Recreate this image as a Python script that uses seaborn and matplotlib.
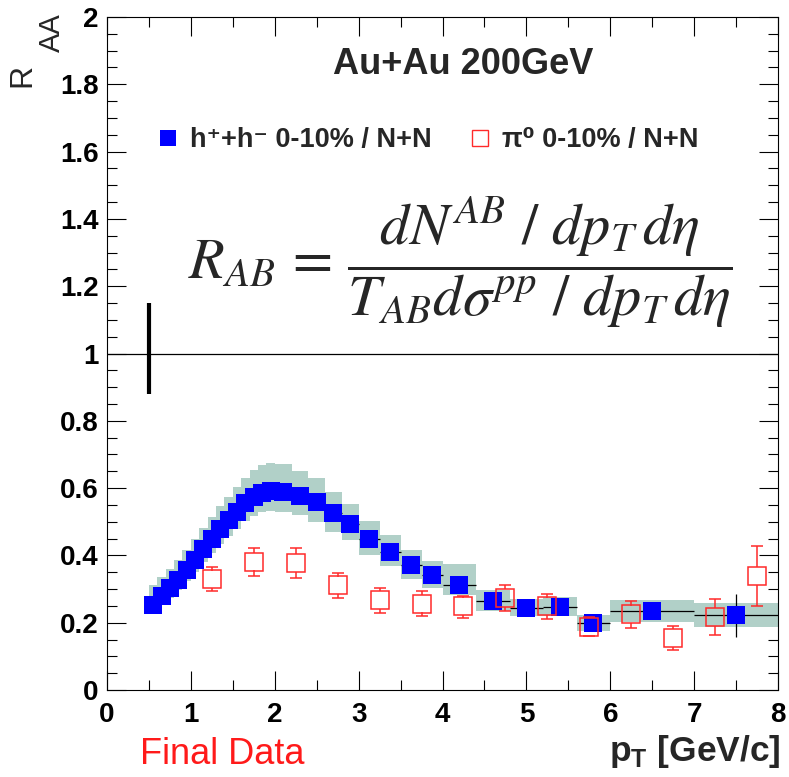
import matplotlib
matplotlib.use("Agg")
import numpy as np
import pandas as pd
import seaborn as sns
import matplotlib.pyplot as plt
from matplotlib.lines import Line2D
from matplotlib.ticker import MultipleLocator, FuncFormatter

# ---------------- data ----------------
h_pt = [0.55, 0.65, 0.75, 0.85, 0.95, 1.05, 1.15, 1.25, 1.35, 1.45, 1.55, 1.65, 1.75, 1.85, 1.95,
        2.1, 2.3, 2.5, 2.7, 2.9, 3.125, 3.375, 3.625, 3.875, 4.2, 4.6, 5.0, 5.4, 5.8, 6.5, 7.5]
h_raa = [0.254, 0.279, 0.303, 0.328, 0.356, 0.386, 0.418, 0.449, 0.478, 0.505, 0.530, 0.555, 0.573,
         0.586, 0.590, 0.588, 0.578, 0.558, 0.525, 0.493, 0.449, 0.411, 0.371, 0.341, 0.313, 0.264,
         0.244, 0.247, 0.198, 0.234, 0.222]
h_bin_lo = [0.5, 0.6, 0.7, 0.8, 0.9, 1.0, 1.1, 1.2, 1.3, 1.4, 1.5, 1.6, 1.7, 1.8, 1.9,
            2.0, 2.2, 2.4, 2.6, 2.8, 3.0, 3.25, 3.5, 3.75, 4.0, 4.4, 4.8, 5.2, 5.6, 6.0, 7.0]
h_bin_hi = [0.6, 0.7, 0.8, 0.9, 1.0, 1.1, 1.2, 1.3, 1.4, 1.5, 1.6, 1.7, 1.8, 1.9, 2.0,
            2.2, 2.4, 2.6, 2.8, 3.0, 3.25, 3.5, 3.75, 4.0, 4.4, 4.8, 5.2, 5.6, 6.0, 7.0, 8.0]
h_sys_up = [0.057, 0.057, 0.058, 0.059, 0.060, 0.062, 0.064, 0.066, 0.068, 0.070, 0.073, 0.076, 0.080,
            0.083, 0.084, 0.084, 0.074, 0.071, 0.064, 0.059, 0.053, 0.050, 0.046, 0.043, 0.060, 0.032,
            0.026, 0.028, 0.025, 0.033, 0.036]
h_sys_dn = [0.025, 0.027, 0.029, 0.031, 0.033, 0.036, 0.039, 0.042, 0.045, 0.048, 0.051, 0.054, 0.056,
            0.058, 0.058, 0.058, 0.058, 0.058, 0.055, 0.048, 0.047, 0.043, 0.040, 0.037, 0.032, 0.030,
            0.024, 0.028, 0.022, 0.033, 0.034]
h_stat = [0.003] * 28 + [0.010, 0.015, 0.064]

pi0_pt = [1.25, 1.75, 2.25, 2.75, 3.25, 3.75, 4.25, 4.75, 5.25, 5.75, 6.25, 6.75, 7.25, 7.75]
pi0_raa = [0.329, 0.381, 0.377, 0.311, 0.267, 0.257, 0.249, 0.273, 0.249, 0.187, 0.225, 0.155, 0.217, 0.339]
pi0_err_hi = [0.366, 0.423, 0.422, 0.349, 0.303, 0.293, 0.279, 0.311, 0.284, 0.216, 0.265, 0.189, 0.270, 0.429]
pi0_err_lo = [0.293, 0.338, 0.334, 0.273, 0.229, 0.219, 0.214, 0.235, 0.210, 0.160, 0.185, 0.120, 0.162, 0.249]

norm_x = 0.5
norm_lo, norm_hi = 0.88, 1.15

x_ticks = [0, 1, 2, 3, 4, 5, 6, 7, 8]
y_ticks = [0, 0.2, 0.4, 0.6, 0.8, 1.0, 1.2, 1.4, 1.6, 1.8, 2.0]

h_label = "h\u207a+h\u207b 0-10% / N+N"
pi0_label = "\u03c0\u2070 0-10% / N+N"
title_text = "Au+Au 200GeV"

# ---------------- style ----------------
BLUE = "#0000ff"
RED = "#ff2a2a"
BAND = "#b1d0c8"

sns.set_theme(style="ticks")
plt.rcParams["font.family"] = ["Liberation Sans", "DejaVu Sans"]
plt.rcParams.update({
    "mathtext.fontset": "custom",
    "mathtext.bf": "Liberation Sans:bold",
    "mathtext.rm": "Liberation Sans",
    "axes.linewidth": 0.8,
    "axes.edgecolor": "black",
    "xtick.direction": "in", "ytick.direction": "in",
    "xtick.top": True, "ytick.right": True,
    "xtick.major.size": 14, "ytick.major.size": 14,
    "xtick.minor.size": 7, "ytick.minor.size": 7,
    "xtick.major.width": 0.8, "ytick.major.width": 0.8,
    "xtick.minor.width": 0.8, "ytick.minor.width": 0.8,
    "xtick.color": "black", "ytick.color": "black",
})

df_h = pd.DataFrame({"pt": h_pt, "raa": h_raa, "lo": h_bin_lo, "hi": h_bin_hi,
                     "sup": h_sys_up, "sdn": h_sys_dn, "stat": h_stat})
df_h["width"] = df_h["hi"] - df_h["lo"]
df_h["center"] = (df_h["hi"] + df_h["lo"]) / 2
df_h["xerr"] = df_h["width"] / 2

df_p = pd.DataFrame({"pt": pi0_pt, "raa": pi0_raa, "hi": pi0_err_hi, "lo": pi0_err_lo})

fig = plt.figure(figsize=(7.89, 7.77), dpi=100)
ax = fig.add_axes([107 / 789, 1 - 690 / 777, 671 / 789, 673 / 777])
ax.set_xlim(0, 8)
ax.set_ylim(0, 2)

# systematic band
ax.bar(df_h["center"], df_h["sup"] + df_h["sdn"], bottom=df_h["raa"] - df_h["sdn"],
       width=df_h["width"], color=BAND, linewidth=0, zorder=1)

# reference line and normalisation bar
ax.axhline(1.0, color="black", lw=0.9, zorder=2)
ax.vlines(norm_x, norm_lo, norm_hi, color="black", lw=3.0, zorder=2)

# blue error bars (bin widths / stat)
ax.errorbar(df_h["pt"], df_h["raa"], xerr=df_h["xerr"], yerr=df_h["stat"], fmt="none",
            ecolor="black", elinewidth=0.9, zorder=3)
# blue points
sns.scatterplot(data=df_h, x="pt", y="raa", marker="s", s=168, color=BLUE,
                linewidth=0, ax=ax, zorder=4, legend=False)

# red points with error bars outside the marker
ms_red = 12.5
fig.canvas.draw()
px_per_unit = ax.transData.transform((0, 1))[1] - ax.transData.transform((0, 0))[1]
gap = (ms_red / 2) * fig.dpi / 72 / px_per_unit
ax.vlines(df_p["pt"], df_p["raa"] + gap, df_p["hi"], color=RED, lw=1.1, zorder=5)
ax.vlines(df_p["pt"], df_p["lo"], df_p["raa"] - gap, color=RED, lw=1.1, zorder=5)
ax.plot(df_p["pt"], df_p["hi"], ls="none", marker="_", ms=9, mew=1.1, color=RED, zorder=5)
ax.plot(df_p["pt"], df_p["lo"], ls="none", marker="_", ms=9, mew=1.1, color=RED, zorder=5)
ax.plot(df_p["pt"], df_p["raa"], ls="none", marker="s", ms=ms_red, mfc="none", mec=RED,
        mew=1.1, zorder=6)

# ticks
ax.set_xticks(x_ticks)
ax.set_yticks(y_ticks)
ax.xaxis.set_minor_locator(MultipleLocator(0.5))
ax.yaxis.set_minor_locator(MultipleLocator(0.05))
ax.yaxis.set_major_formatter(FuncFormatter(lambda v, p: f"{v:g}"))
ax.xaxis.set_major_formatter(FuncFormatter(lambda v, p: f"{v:g}"))
ax.tick_params(axis="both", which="major", labelsize=20, pad=9)
ax.tick_params(axis="y", which="major", pad=6)
for lab in ax.get_xticklabels() + ax.get_yticklabels():
    lab.set_fontweight("bold")
ax.set_xlabel("")
ax.set_ylabel("")

# texts
ax.text(0.531, 0.929, title_text, transform=ax.transAxes, ha="center", va="center",
        fontsize=26, fontweight="bold")

formula = (r"$R_{AB}\,=\,\dfrac{dN^{AB}\ /\ dp_{T}\,d\eta}"
           r"{T_{AB}d\sigma^{pp}\ /\ dp_{T}\,d\eta}$")
ax.text(0.527, 0.636, formula, transform=ax.transAxes, ha="center", va="center",
        fontsize=42, math_fontfamily="stix")

handles = [Line2D([], [], ls="none", marker="s", ms=11, mfc=BLUE, mec=BLUE, mew=0),
           Line2D([], [], ls="none", marker="s", ms=11, mfc="none", mec=RED, mew=1.0)]
leg = ax.legend(handles, [h_label, pi0_label], ncol=2, loc="center left",
                bbox_to_anchor=(0.0708, 0.817), frameon=False, handlelength=1.0,
                handletextpad=0.3, columnspacing=1.3, borderpad=0, borderaxespad=0,
                prop={"size": 19.5, "weight": "bold"})

fig.text(22 / 789, 1 - 75 / 777, "R", rotation=90, ha="center", va="center", fontsize=23)
fig.text(52 / 789, 1 - 33 / 777, "AA", rotation=90, ha="center", va="center", fontsize=21)

fig.text(781 / 789, 1 - 752 / 777, r"p$_{\mathbf{T}}$ [GeV/c]", ha="right", va="center",
         fontsize=25.5, fontweight="bold")
fig.text(222 / 789, 1 - 755 / 777, "Final Data", ha="center", va="center", fontsize=26,
         color="#ff1a1a")

fig.savefig("out.png", dpi=100)
